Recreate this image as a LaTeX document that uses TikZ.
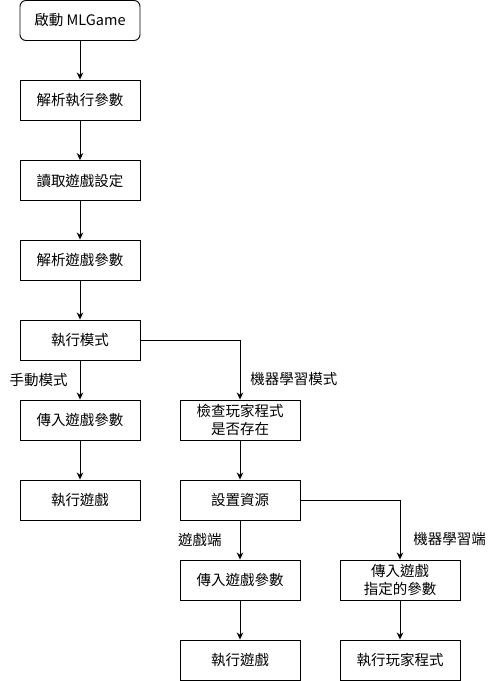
\documentclass[tikz,border=0pt]{standalone}
\usepackage{fontspec}
\newfontfamily\cjk{Noto Sans CJK TC}
\usepackage{tikz}
\usetikzlibrary{arrows.meta}

\begin{document}
\begin{tikzpicture}[
  x=1pt, y=-1pt,
  stepbox/.style={rectangle, draw, fill=white, minimum width=120pt, minimum height=40pt, align=center, font=\cjk\fontsize{14.5}{18}\selectfont, line width=0.9pt, inner sep=1pt},
  startbox/.style={stepbox, rounded corners=6pt},
  arrow/.style={-{Stealth[length=7pt, width=6.5pt, inset=2.2pt]}, line width=0.9pt},
  label/.style={font=\cjk\fontsize{14.5}{18}\selectfont, inner sep=1pt}
]
\useasboundingbox (0,0) rectangle (501,681);

% Main column
\node[startbox] (start) at (80,20.5) {啟動 MLGame};
\node[stepbox] (parseargs) at (80,100) {解析執行參數};
\node[stepbox] (readconfig) at (80,180.5) {讀取遊戲設定};
\node[stepbox] (parsegame) at (80,260) {解析遊戲參數};
\node[stepbox] (mode) at (80,340) {執行模式};

% Manual mode
\node[stepbox] (manualargs) at (80,420) {傳入遊戲參數};
\node[stepbox] (manualrun) at (80,500) {執行遊戲};

% ML mode
\node[stepbox] (checkml) at (240,420) {檢查玩家程式\\是否存在};
\node[stepbox] (setup) at (240,500) {設置資源};
\node[stepbox] (gameargs) at (240,580) {傳入遊戲參數};
\node[stepbox] (gamerun) at (240,660) {執行遊戲};
\node[stepbox] (mlargs) at (400,580) {傳入遊戲\\指定的參數};
\node[stepbox] (mlrun) at (400,660) {執行玩家程式};

\draw[arrow] (start) -- (parseargs);
\draw[arrow] (parseargs) -- (readconfig);
\draw[arrow] (readconfig) -- (parsegame);
\draw[arrow] (parsegame) -- (mode);
\draw[arrow] (mode) -- node[label, left=11pt] {手動模式} (manualargs);
\draw[arrow] (manualargs) -- (manualrun);
\draw[arrow] (mode.east) -| node[label, right=9pt, pos=0.83] {機器學習模式} (checkml.north);
\draw[arrow] (checkml) -- (setup);
\draw[arrow] (setup) -- node[label, left=17pt] {遊戲端} (gameargs);
\draw[arrow] (gameargs) -- (gamerun);
\draw[arrow] (setup.east) -| node[label, right=12pt, pos=0.83] {機器學習端} (mlargs.north);
\draw[arrow] (mlargs) -- (mlrun);

\end{tikzpicture}
\end{document}
